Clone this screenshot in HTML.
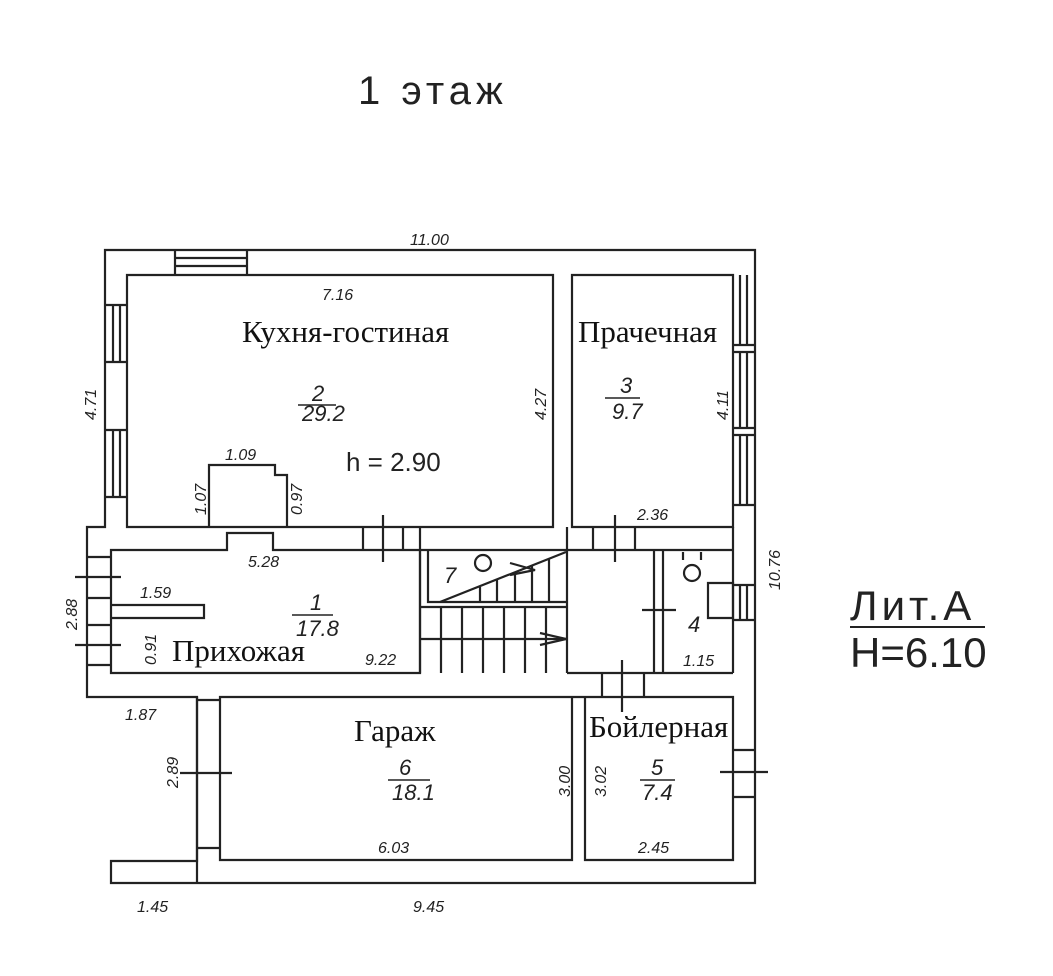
<!DOCTYPE html>
<html><head><meta charset="utf-8"><style>
html,body{margin:0;padding:0;background:#fff;}
svg{display:block}
.d{font-family:"Liberation Sans",sans-serif;font-style:italic;font-size:16px;fill:#222}
.r{font-family:"Liberation Serif",serif;font-size:31px;fill:#111}
.b{font-family:"Liberation Sans",sans-serif;font-size:42px;fill:#222;font-weight:normal}
</style></head><body>
<svg width="1053" height="976" viewBox="0 0 1053 976" xmlns="http://www.w3.org/2000/svg">
<g fill="none" stroke="#222" stroke-width="2.2">
<path d="M105 250 H755 V883 H111 V861 H197 V697 H87 V527 H105 Z"/>
<path d="M127 275 H553 V527 H127 Z"/>
<path d="M572 275 H733 V527 H572 Z"/>
<path d="M209 527 V465 H275 V475 H287 V527"/>
<path d="M111 550 H227 V533 H273 V550 H420 V673 H111 Z"/>
<path d="M111 605 H204 V618 H111"/>
<path d="M420 550 V673 M567 550 V673 M420 550 H567"/>
<path d="M428 550 V602 H567 M420 607 H567 M420 639 H567"/>
<path d="M441 607 V673 M462 607 V673 M483 607 V673 M504 607 V673 M525 607 V673 M546 607 V673"/>
<path d="M440 602 L566 552 M480 587 V602 M497 580 V602 M515 573 V602 M532 566 V602 M549 559 V602"/>
<path d="M510 563 L535 570 L510 575 M540 633 L566 639 L540 645"/>
<circle cx="483" cy="563" r="8"/>
<circle cx="692" cy="573" r="8"/>
<path d="M683 552 V560 M701 552 V560"/>
<path d="M567 550 H733 M567 673 H733 M654 550 V673 M663 550 V673 M733 527 V673"/>
<path d="M708 583 H733 V618 H708 Z"/>
<path d="M642 610 H676 M622 660 V712 M602 673 V697 M644 673 V697"/>
<path d="M420 550 V527 M567 550 V527"/>
<path d="M363 527 V550 M403 527 V550 M383 515 V562"/>
<path d="M593 527 V550 M635 527 V550 M615 515 V562"/>
<path d="M220 697 H572 V860 H220 Z M585 697 H733 V860 H585 Z M572 697 H585 M197 697 V883"/>
<path d="M197 700 H220 M197 848 H220 M180 773 H232"/>
<path d="M733 750 H755 M733 797 H755 M720 772 H768"/>
<path d="M175 250 V275 M247 250 V275 M175 258 H247 M175 266 H247"/>
<path d="M105 305 H127 M105 362 H127 M113 305 V362 M120 305 V362 M105 430 H127 M105 497 H127 M113 430 V497 M120 430 V497"/>
<path d="M740 275 V345 M747 275 V345 M733 345 H755 M733 352 H755 M740 352 V428 M747 352 V428 M733 428 H755 M733 435 H755 M740 435 V505 M747 435 V505 M733 505 H755"/>
<path d="M733 585 H755 M733 620 H755 M740 585 V620 M747 585 V620"/>
<path d="M87 557 H111 M75 577 H121 M87 598 H111 M87 625 H111 M75 645 H121 M87 665 H111"/>
</g>
<text x="358" y="104" class="b" style="font-size:40px;letter-spacing:5px">1 этаж</text>
<text x="850" y="620" class="b" style="letter-spacing:4px">Лит.А</text>
<text x="850" y="667" class="b">H=6.10</text>
<line x1="850" y1="627" x2="985" y2="627" stroke="#222" stroke-width="2"/>
<g class="d">
<text x="410" y="245">11.00</text>
<text x="322" y="300">7.16</text>
<text x="225" y="460">1.09</text>
<text x="248" y="567">5.28</text>
<text x="140" y="598">1.59</text>
<text x="365" y="665">9.22</text>
<text x="683" y="666">1.15</text>
<text x="637" y="520">2.36</text>
<text x="125" y="720">1.87</text>
<text x="378" y="853">6.03</text>
<text x="638" y="853">2.45</text>
<text x="137" y="912">1.45</text>
<text x="413" y="912">9.45</text>
<text x="312" y="401" style="font-size:22px">2</text><text x="302" y="421" style="font-size:22px">29.2</text>
<text x="620" y="393" style="font-size:22px">3</text><text x="612" y="419" style="font-size:22px">9.7</text>
<text x="310" y="610" style="font-size:22px">1</text><text x="296" y="636" style="font-size:22px">17.8</text>
<text x="444" y="583" style="font-size:22px">7</text>
<text x="688" y="632" style="font-size:22px">4</text>
<text x="399" y="775" style="font-size:22px">6</text><text x="392" y="800" style="font-size:22px">18.1</text>
<text x="651" y="775" style="font-size:22px">5</text><text x="642" y="800" style="font-size:22px">7.4</text>
</g>
<g stroke="#222" stroke-width="1.5">
<line x1="298" y1="405" x2="336" y2="405"/><line x1="605" y1="398" x2="640" y2="398"/>
<line x1="292" y1="615" x2="333" y2="615"/><line x1="388" y1="780" x2="430" y2="780"/>
<line x1="640" y1="780" x2="675" y2="780"/>
</g>
<g class="d">
<text transform="translate(96,420) rotate(-90)">4.71</text>
<text transform="translate(546,420) rotate(-90)">4.27</text>
<text transform="translate(728,420) rotate(-90)">4.11</text>
<text transform="translate(206,515) rotate(-90)">1.07</text>
<text transform="translate(302,515) rotate(-90)">0.97</text>
<text transform="translate(780,590) rotate(-90)">10.76</text>
<text transform="translate(77,630) rotate(-90)">2.88</text>
<text transform="translate(156,665) rotate(-90)">0.91</text>
<text transform="translate(178,788) rotate(-90)">2.89</text>
<text transform="translate(570,797) rotate(-90)">3.00</text>
<text transform="translate(606,797) rotate(-90)">3.02</text>
</g>
<text x="346" y="471" class="d" style="font-style:normal;font-size:26px">h = 2.90</text>
<g class="r">
<text x="242" y="342">Кухня-гостиная</text>
<text x="578" y="342">Прачечная</text>
<text x="172" y="661">Прихожая</text>
<text x="354" y="741">Гараж</text>
<text x="589" y="737">Бойлерная</text>
</g>
</svg>
</body></html>
